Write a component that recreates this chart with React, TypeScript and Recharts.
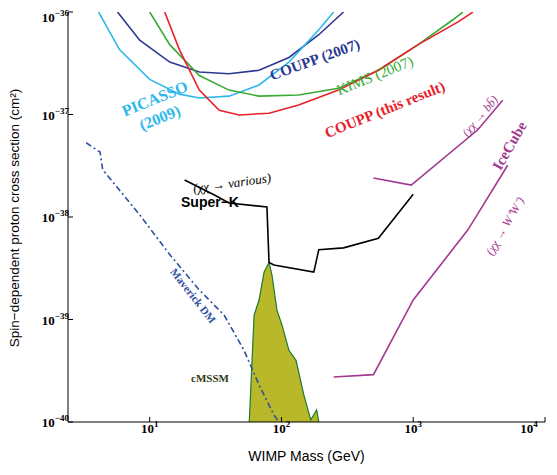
import { ComposedChart, Line, Area, XAxis, YAxis } from "recharts";

type P = { m: number; s: number };
const pts = (a: number[][]): P[] => a.map(([m, s]) => ({ m, s }));

const coupp2007 = pts([[5.7, 1e-36], [8.4, 5.3e-37], [14.2, 3.25e-37], [23.8, 2.6e-37], [40, 2.5e-37], [67.6, 2.7e-37], [114, 3.6e-37], [192, 6.0e-37], [296, 1e-36]]);
const picasso = pts([[4.1, 1e-36], [5.9, 4.3e-37], [10, 2.2e-37], [16.8, 1.58e-37], [23.8, 1.45e-37], [40, 1.51e-37], [67.6, 1.94e-37], [114, 3.25e-37], [192, 6.7e-37], [249, 1e-36]]);
const kims = pts([[10, 1e-36], [14.2, 4.8e-37], [23.8, 2.4e-37], [40, 1.73e-37], [67.6, 1.51e-37], [135, 1.55e-37], [271, 1.8e-37], [544, 2.7e-37], [1090, 4.8e-37], [2000, 8.4e-37], [2380, 1e-36]]);
const couppNew = pts([[13, 1e-36], [16.8, 4.3e-37], [23.8, 1.73e-37], [33.7, 1.1e-37], [47.8, 9.9e-38], [80.5, 1.03e-37], [135, 1.24e-37], [271, 1.73e-37], [544, 2.7e-37], [1090, 4.8e-37], [2190, 8.0e-37], [2840, 1e-36]]);
const superK = pts([[18.4, 2.3e-38], [31, 1.64e-38], [40, 1.37e-38], [77.6, 1.25e-38], [80.5, 3.6e-39], [87.7, 3.4e-39], [176, 2.9e-39], [192, 4.8e-39], [296, 5.0e-39], [544, 6.2e-39], [1000, 1.67e-38]]);
const iceBB = pts([[499, 2.4e-38], [966, 2.05e-38], [3090, 7.1e-38], [4780, 1.38e-37]]);
const iceWW = pts([[249, 2.75e-40], [499, 2.9e-40], [1000, 1.55e-39], [2600, 7.5e-39], [5210, 3.2e-38]]);
const maverick = pts([[3.3, 5.3e-38], [4.2, 4.3e-38], [4.4, 2.9e-38], [8.4, 1.05e-38], [14.2, 4.3e-39], [23.8, 1.94e-39], [36.8, 1.1e-39], [52, 5.0e-40], [67.6, 2.3e-40], [87.7, 1.17e-40], [95.7, 1e-40]]);
const cmssm = pts([[57, 1e-40], [62, 1.1e-39], [67.6, 1.55e-39], [73.8, 2.9e-39], [80.5, 3.6e-39], [84.8, 2.7e-39], [92.4, 1.24e-39], [101, 8.8e-40], [114, 5.0e-40], [129, 4.0e-40], [148, 1.83e-40], [167, 1.05e-40], [185, 1.31e-40], [192, 1e-40]]);

const xTicks = [10, 100, 1000, 10000];
const xExp = ["1", "2", "3", "4"];
const yTicks = [1e-40, 1e-39, 1e-38, 1e-37, 1e-36];
const yExp = ["−40", "−39", "−38", "−37", "−36"];

const font = "Liberation Sans, Arial, sans-serif";

const XTick = ({ x, y, payload }: any) => {
  const i = xTicks.findIndex((t) => Math.abs(t - payload.value) / t < 1e-6);
  return (
    <text x={x} y={y + 14} textAnchor="middle" fontFamily="Liberation Serif, serif" fontWeight="bold" fontSize={13}>
      10<tspan dy={-6} fontSize={9}>{xExp[i]}</tspan>
    </text>
  );
};
const YTick = ({ x, y, payload }: any) => {
  const i = yTicks.findIndex((t) => Math.abs(t - payload.value) / t < 1e-6);
  return (
    <text x={x - 2} y={y + 5} textAnchor="end" fontFamily="Liberation Serif, serif" fontWeight="bold" fontSize={13}>
      10<tspan dy={-6} fontSize={9}>{yExp[i]}</tspan>
    </text>
  );
};

// labels placed by centre (chart coordinates), rotated about their centre
const lab = (text: string, cx: number, cy: number, color: string, rot: number, extra: any = {}) => (
  <div style={{ position: "absolute", left: cx, top: cy, color, transform: `translate(-50%, -50%) rotate(${rot}deg)`, fontFamily: "Liberation Serif, serif", fontWeight: "bold", fontSize: 15, whiteSpace: "nowrap", lineHeight: 1, ...extra }}>
    {text}
  </div>
);

export default function App() {
  const line = (d: P[], c: string, extra: any = {}) => (
    <Line data={d} dataKey="s" type="linear" stroke={c} strokeWidth={1.6} dot={false} isAnimationActive={false} {...extra} />
  );
  return (
    <div style={{ position: "relative", width: 541, height: 459 }}>
      <ComposedChart width={541} height={459} margin={{ top: 4, right: 4, bottom: 0, left: 0 }}>
        <XAxis xAxisId={0} dataKey="m" type="number" scale="log" domain={[2.4, 10000]} ticks={xTicks} tick={<XTick />} allowDataOverflow height={45} tickSize={-5} stroke="#000"
          label={{ value: "WIMP Mass (GeV)", position: "insideBottom", offset: 6, fontFamily: font, fontSize: 14, fill: "#000" }} />
        <XAxis xAxisId={1} orientation="top" dataKey="m" type="number" scale="log" domain={[2.4, 10000]} ticks={xTicks} tick={false} tickSize={-5} allowDataOverflow height={0} stroke="#000" />
        <YAxis yAxisId={0} type="number" scale="log" domain={[1e-40, 1e-36]} ticks={yTicks} tick={<YTick />} allowDataOverflow width={60} tickSize={-5} stroke="#000" />
        <YAxis yAxisId={1} orientation="right" type="number" scale="log" domain={[1e-40, 1e-36]} ticks={yTicks} tick={false} tickSize={-5} allowDataOverflow width={0} stroke="#000" />
        <Area data={cmssm} dataKey="s" type="linear" stroke="#1e7a2e" strokeWidth={1.2} fill="#b8b82a" fillOpacity={1} baseValue={1e-40} isAnimationActive={false} />
        {line(coupp2007, "#2b3990")}
        {line(picasso, "#2fb8ea")}
        {line(kims, "#3aaa35")}
        {line(couppNew, "#e8202a")}
        {line(superK, "#000")}
        {line(iceBB, "#a3388f")}
        {line(iceWW, "#a3388f")}
        {line(maverick, "#2f4fa0", { strokeDasharray: "6 3 2 3" })}
      </ComposedChart>
      {lab("Spin−dependent proton cross section (cm²)", 7, 210, "#000", -90, { fontFamily: font, fontWeight: "normal", fontSize: 13.5 })}
      {lab("COUPP (2007)", 307, 52, "#2b3990", -20)}
      {lab("KIMS (2007)", 367, 68, "#3aaa35", -22, { fontWeight: "normal" })}
      {lab("COUPP (this result)", 377, 102, "#e8202a", -22)}
      {lab("PICASSO", 147, 91, "#2fb8ea", -22, { fontSize: 16 })}
      {lab("(2009)", 152, 110, "#2fb8ea", -22, { fontSize: 16 })}
      {lab("(χχ → various)", 224, 175, "#000", -8, { fontWeight: "normal", fontStyle: "italic", fontSize: 13 })}
      {lab("Super−K", 202, 194, "#000", 0, { fontFamily: font, fontSize: 14 })}
      {lab("(χχ → bb̄)", 472, 108, "#a3388f", -50, { fontWeight: "normal", fontStyle: "italic", fontSize: 12 })}
      {lab("IceCube", 502, 138, "#a3388f", -60)}
      {lab("(χχ → W⁺W⁻)", 497, 218, "#a3388f", -60, { fontWeight: "normal", fontStyle: "italic", fontSize: 12 })}
      {lab("Maverick DM", 185, 288, "#2f4fa0", 52, { fontSize: 11 })}
      {lab("cMSSM", 202, 370, "#2e3a10", 0, { fontSize: 11 })}
    </div>
  );
}
